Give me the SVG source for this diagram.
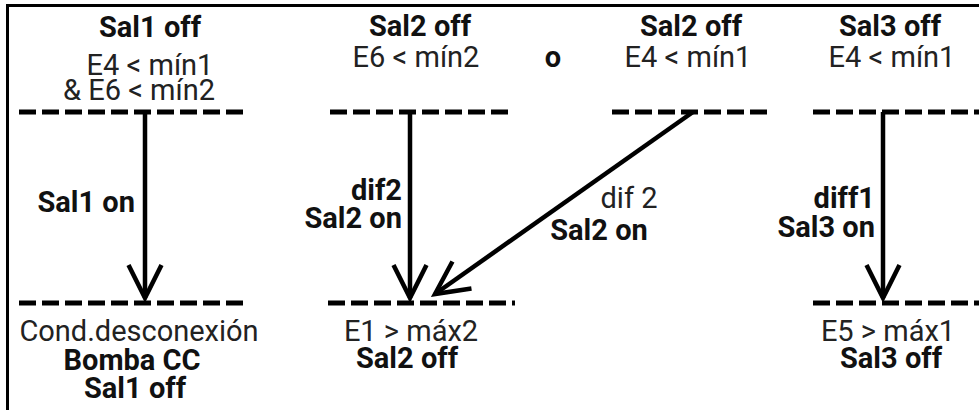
<svg xmlns="http://www.w3.org/2000/svg" width="979" height="410" viewBox="0 0 979 410">
<defs>
<style>
text{font-family:Roboto,"Liberation Sans",sans-serif;font-size:29px;fill:#222}
.b{font-weight:bold;fill:#111}
.m{text-anchor:middle}
.e{text-anchor:end}
.dash{stroke:#000;stroke-width:5;stroke-dasharray:17 6;fill:none}
.arr{stroke:#000;stroke-width:4.5;fill:none;marker-end:url(#v)}
.frame{stroke:#000;stroke-width:3;fill:none}
</style>
<marker id="v" markerUnits="userSpaceOnUse" viewBox="-40 -22 46 44" refX="0" refY="0" markerWidth="46" markerHeight="44" orient="auto">
<path d="M-33,-16.5 L0,0 L-33,16.5" stroke="#000" stroke-width="4.5" fill="none" stroke-linejoin="miter"/>
</marker>
</defs>
<path class="frame" d="M7.5,410 V5.5 H979"/>
<g id="s1-start">
<text class="b m" x="150" y="37">Sal1 off</text>
<text class="m" x="150" y="75">E4 &lt; mín1</text>
<text class="m" x="139" y="100">&amp; E6 &lt; mín2</text>
<line class="dash" x1="19" y1="112" x2="248" y2="112"/>
</g>
<g id="s2-start-a">
<text class="b m" x="420" y="36">Sal2 off</text>
<text class="m" x="416" y="67">E6 &lt; mín2</text>
<line class="dash" x1="330" y1="112" x2="512" y2="112"/>
</g>
<g id="or">
<text class="b m" x="553" y="67">o</text>
</g>
<g id="s2-start-b">
<text class="b m" x="691" y="36">Sal2 off</text>
<text class="m" x="688" y="67">E4 &lt; mín1</text>
<line class="dash" x1="612" y1="112" x2="768" y2="112"/>
</g>
<g id="s3-start">
<text class="b m" x="890" y="36">Sal3 off</text>
<text class="m" x="892" y="67">E4 &lt; mín1</text>
<line class="dash" x1="813" y1="112" x2="979" y2="112"/>
</g>
<g id="s1-end">
<line class="dash" x1="19" y1="303" x2="248" y2="303"/>
<text class="m" x="139" y="341">Cond.desconexión</text>
<text class="b m" x="132" y="370">Bomba CC</text>
<text class="b m" x="135" y="398">Sal1 off</text>
</g>
<g id="s2-end">
<line class="dash" x1="328" y1="303" x2="515" y2="303"/>
<text class="m" x="411" y="341">E1 &gt; máx2</text>
<text class="b m" x="407" y="368">Sal2 off</text>
</g>
<g id="s3-end">
<line class="dash" x1="813" y1="303" x2="979" y2="303"/>
<text class="m" x="888" y="341">E5 &gt; máx1</text>
<text class="b m" x="891" y="368">Sal3 off</text>
</g>
<g id="connectors">
<line class="arr" x1="145" y1="112" x2="145" y2="298"/>
<text class="b e" x="135" y="212">Sal1 on</text>
<line class="arr" x1="410" y1="112" x2="410" y2="298"/>
<text class="b e" x="402" y="200">dif2</text>
<text class="b e" x="402" y="228">Sal2 on</text>
<line class="arr" x1="693" y1="112" x2="435" y2="294"/>
<text class="m" x="629" y="208">dif 2</text>
<text class="b m" x="599" y="240">Sal2 on</text>
<line class="arr" x1="883" y1="112" x2="883" y2="298"/>
<text class="b e" x="875" y="208">diff1</text>
<text class="b e" x="875" y="237">Sal3 on</text>
</g>
</svg>
